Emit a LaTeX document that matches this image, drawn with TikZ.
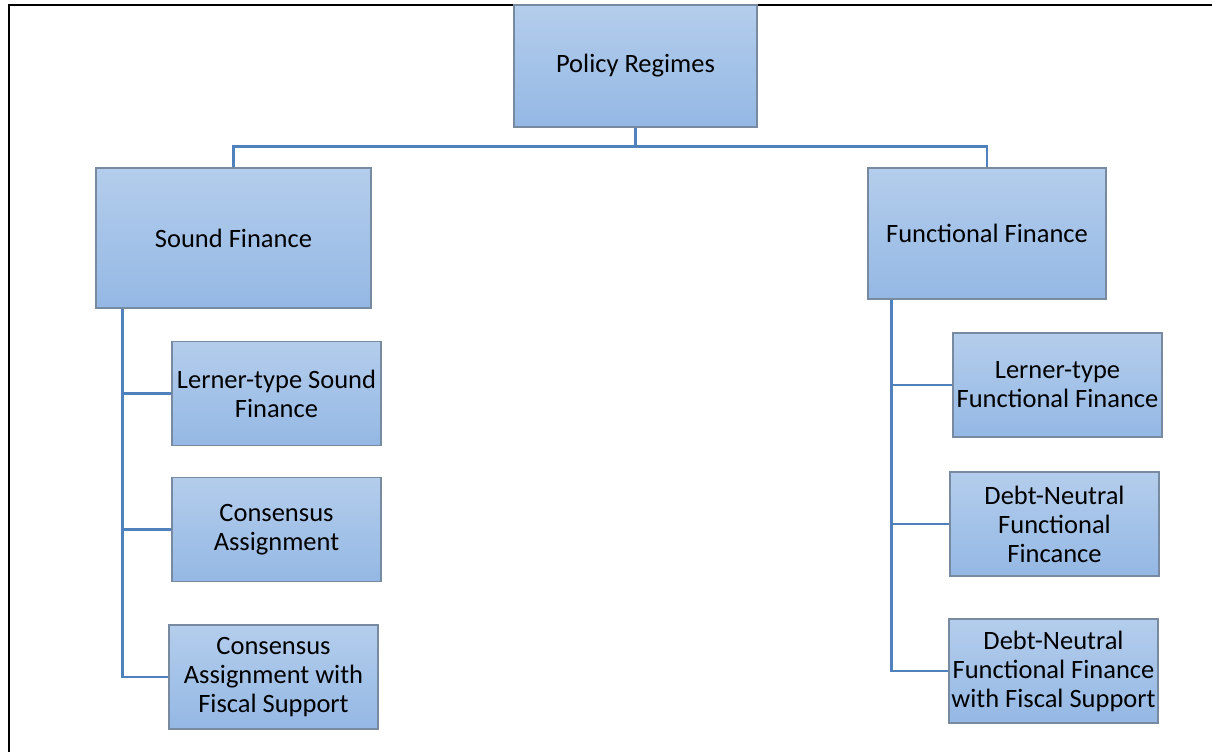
\documentclass[tikz,border=0pt]{standalone}
\usepackage{fontspec}
\setmainfont{Carlito}
\usepackage{tikz}
\usetikzlibrary{calc,positioning}
\definecolor{boxtop}{RGB}{180,205,236}
\definecolor{boxbot}{RGB}{148,184,228}
\definecolor{boxline}{RGB}{120,138,160}
\definecolor{linkblue}{RGB}{79,129,189}
\tikzset{
    regime/.style={rectangle,draw=boxline,line width=1.2pt,top color=boxtop,bottom color=boxbot,
        align=center,inner sep=2pt,node font=\fontsize{26.5}{29}\selectfont},
    rootbox/.style={regime,minimum width=243pt,minimum height=122pt},
    mainbox/.style={regime,minimum height=135pt},
    subbox/.style={regime,minimum width=209pt,minimum height=104pt},
    link/.style={draw=linkblue,line width=2.4pt},
    frame/.style={draw=black,line width=2pt},
}
\begin{document}
\begin{tikzpicture}[x=1pt,y=-1pt]
    \useasboundingbox (0,0) rectangle (1212,752);
    \draw [frame] (9,752) -- (9,5) -- (1212,5);
    % top level
    \node [rootbox] (root) at (635.5,66) {Policy Regimes};
    \node [mainbox,minimum width=275pt,minimum height=140pt] (sound) at (233.5,238) {Sound Finance};
    \node [mainbox,minimum width=238pt,minimum height=131pt] (func) at (987,233.5) {Functional Finance};
    % sound finance branch
    \node [subbox] (lsf) at (276.5,393.5) {Lerner-type Sound\\Finance};
    \node [subbox] (ca) at (276.5,529.5) {Consensus\\Assignment};
    \node [subbox] (caf) at (273.5,677) {Consensus\\Assignment with\\Fiscal Support};
    % functional finance branch
    \node [subbox] (lff) at (1057.5,385) {Lerner-type\\Functional Finance};
    \node [subbox] (dnff) at (1054.5,524) {Debt-Neutral\\Functional\\Fincance};
    \node [subbox] (dnfs) at (1053.5,671) {Debt-Neutral\\Functional Finance\\with Fiscal Support};
    % connectors
    \path [link] (root.south) -- ++(0,19) coordinate (split);
    \path [link] (split) -| (sound.north);
    \path [link] (split) -| (func.north);
    \coordinate (strunk) at ([xshift=27pt]sound.south west);
    \coordinate (ftrunk) at ([xshift=24pt]func.south west);
    \path [link] (strunk) |- (caf.west);
    \path [link] (ftrunk) |- (dnfs.west);
    \foreach \k in {lsf,ca} \path [link] (\k.west) -- (\k.west -| strunk);
    \foreach \k in {lff,dnff} \path [link] (\k.west) -- (\k.west -| ftrunk);
\end{tikzpicture}
\end{document}
